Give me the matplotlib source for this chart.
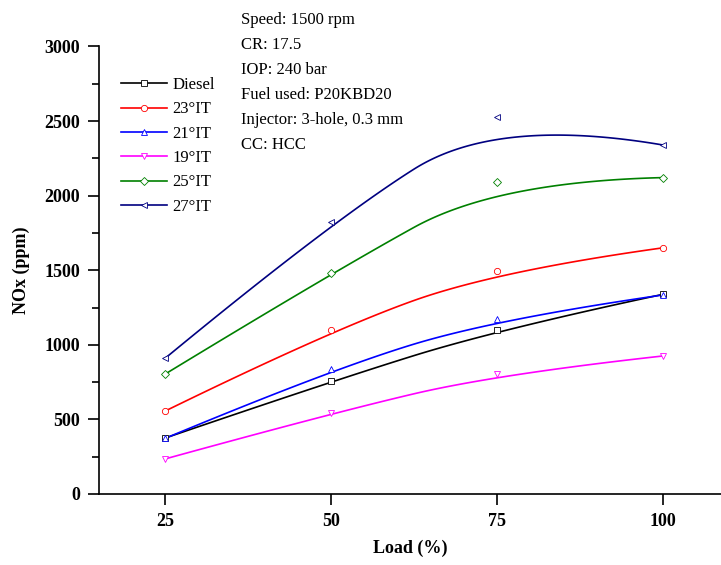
import numpy as np
import matplotlib
matplotlib.use("Agg")
import matplotlib.pyplot as plt
from matplotlib.lines import Line2D

# Data
load = [25, 50, 75, 100]
diesel = [375, 755, 1100, 1338]
it_23 = [556, 1099, 1495, 1650]
it_21 = [373, 836, 1173, 1334]
it_19 = [235, 541, 802, 925]
it_25 = [804, 1480, 2094, 2121]
it_27 = [910, 1826, 2529, 2340]

labels = ["Diesel", "23°IT", "21°IT", "19°IT", "25°IT", "27°IT"]
series = [diesel, it_23, it_21, it_19, it_25, it_27]
colors = ["black", "#FF0000", "#0000FF", "#FF00FF", "#008000", "#000080"]
markers = ["s", "o", "^", "v", "D", "<"]

info_lines = ["Speed: 1500 rpm", "CR: 17.5", "IOP: 240 bar",
              "Fuel used: P20KBD20", "Injector: 3-hole, 0.3 mm", "CC: HCC"]


def bspline2(xs, ys, n=60):
    """Quadratic clamped B-spline using the data points as control points."""
    pts = np.column_stack([xs, ys]).astype(float)
    k = len(pts)
    out = []
    for i in range(1, k - 1):
        start = pts[0] if i == 1 else (pts[i - 1] + pts[i]) / 2
        end = pts[-1] if i == k - 2 else (pts[i] + pts[i + 1]) / 2
        t = np.linspace(0, 1, n)[:, None]
        seg = (1 - t) ** 2 * start + 2 * t * (1 - t) * pts[i] + t ** 2 * end
        out.append(seg if i == 1 else seg[1:])
    curve = np.vstack(out)
    return curve[:, 0], curve[:, 1]


plt.rcParams["font.family"] = ["Liberation Serif", "DejaVu Serif"]

fig = plt.figure(figsize=(7.21, 5.65), dpi=100)
ax = fig.add_axes([0.138, 0.1257, 0.862, 0.792])

handles = []
for vals, lab, col, mk in zip(series, labels, colors, markers):
    cx, cy = bspline2(load, vals)
    ax.plot(cx, cy, color=col, lw=1.2, zorder=2)
    ax.plot(load, vals, linestyle="none", marker=mk, ms=4.5, mfc="white",
            mec=col, mew=0.6, zorder=3)
    handles.append(Line2D([], [], color=col, lw=1.2, marker=mk, ms=4.5,
                          mfc="white", mec=col, mew=0.6))

ax.set_xlim(15.1, 108.8)
ax.set_ylim(0, 3000)
ax.set_xticks(load)
ax.set_yticks(range(0, 3001, 500))
ax.set_yticks(range(250, 3000, 500), minor=True)
ax.spines["top"].set_visible(False)
ax.spines["right"].set_visible(False)
for s in ["left", "bottom"]:
    ax.spines[s].set_linewidth(1.2)
ax.tick_params(axis="both", which="major", direction="out", length=8, width=1.2,
               labelsize=13, pad=6)
ax.tick_params(axis="y", which="minor", direction="out", length=5, width=1.2)
for lbl in ax.get_xticklabels() + ax.get_yticklabels():
    lbl.set_fontweight("bold")

ax.set_xlabel("Load (%)", fontsize=13, fontweight="bold", labelpad=7)
ax.set_ylabel("NOx (ppm)", fontsize=13, fontweight="bold", labelpad=10)

ax.legend(handles, labels, loc="upper left", bbox_to_anchor=(0.01, 0.965),
          frameon=False, fontsize=12, handlelength=2.8, handletextpad=0.3,
          labelspacing=0.5)

for i, line in enumerate(info_lines):
    fig.text(241 / 721, 1 - (20 + 25 * i) / 565, line, fontsize=12,
             va="center", ha="left")

fig.savefig("out.png", dpi=100)
